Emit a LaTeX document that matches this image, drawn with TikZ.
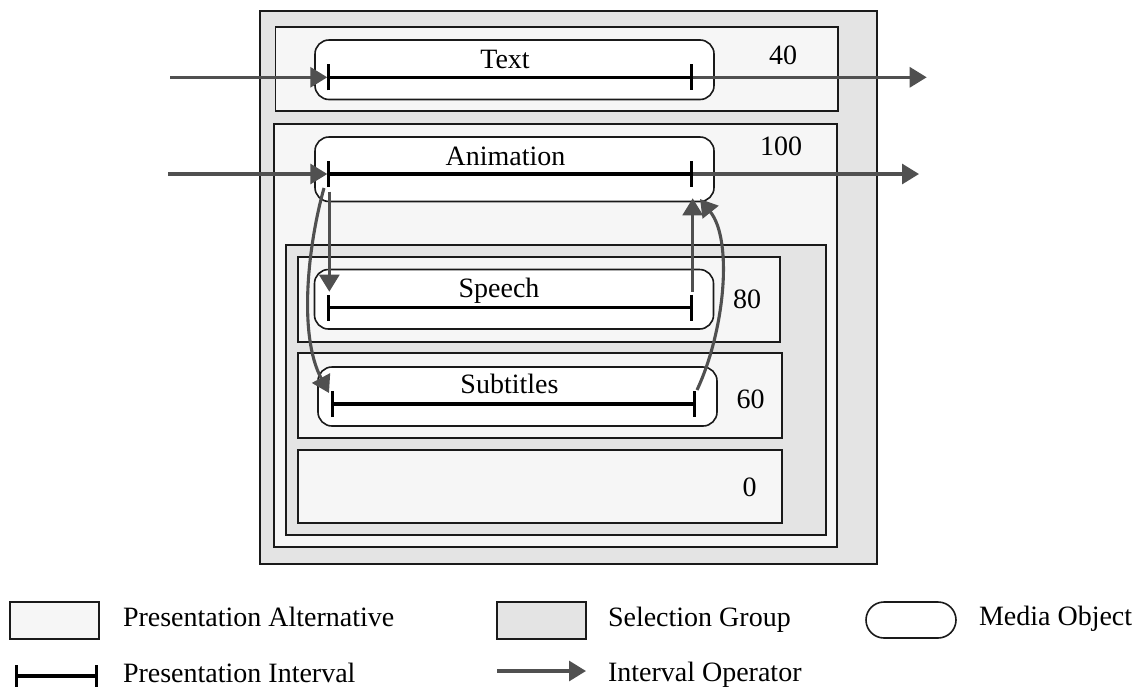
\documentclass[tikz,border=0pt]{standalone}
\usepackage{fontspec}
\setmainfont{Liberation Serif}
\usetikzlibrary{arrows.meta}
\definecolor{sgfill}{HTML}{E4E4E4}
\definecolor{pafill}{HTML}{F6F6F6}
\definecolor{bord}{HTML}{1A1A1A}
\definecolor{opgray}{HTML}{505050}
\begin{document}
\begin{tikzpicture}[x=1pt,y=-1pt,
  every node/.style={inner sep=0pt, outer sep=0pt},
  box/.style={draw=bord, line width=1.6pt, anchor=north west},
  sgbox/.style={box, fill=sgfill},
  pabox/.style={box, fill=pafill},
  mobox/.style={box, fill=white, rounded corners=14pt},
  lbl/.style={font=\fontsize{28}{30}\selectfont, anchor=base},
  num/.style={font=\fontsize{28}{30}\selectfont, anchor=base west},
  interval/.style={draw=black, line width=3.1pt, {Bar[width=26pt]}-{Bar[width=26pt]}},
  op/.style={draw=opgray, line width=3.1pt, -{Triangle[length=17pt,width=20pt]}}
]
\useasboundingbox (0,0) rectangle (1146,686);

% boxes
\node[sgbox, minimum width=617pt, minimum height=553pt] (outer) at (260,11) {};
\node[pabox, minimum width=562.5pt, minimum height=84pt] (textPA) at (275.5,27) {};
\node[pabox, minimum width=563pt, minimum height=423pt] (animPA) at (274,124) {};
\node[sgbox, minimum width=540pt, minimum height=290pt] (innerSG) at (286,245) {};
\node[pabox, minimum width=482pt, minimum height=85pt] (speechPA) at (298,257) {};
\node[pabox, minimum width=484pt, minimum height=85pt] (subPA) at (298,353) {};
\node[pabox, minimum width=484pt, minimum height=73pt] (emptyPA) at (298,450) {};

% media objects
\node[mobox, minimum width=399pt, minimum height=59.5pt] (textMO) at (315,40) {};
\node[mobox, minimum width=399pt, minimum height=64.5pt] (animMO) at (315,137) {};
\node[mobox, minimum width=399pt, minimum height=59.5pt] (speechMO) at (314.5,269.5) {};
\node[mobox, minimum width=399pt, minimum height=59pt] (subMO) at (318,367) {};

% labels
\node[lbl] (tTxt) at (505,68) {Text};
\node[lbl] (aTxt) at (505.5,165.7) {Animation};
\node[lbl] (sTxt) at (499,297.3) {Speech};
\node[lbl] (bTxt) at (509.5,393.3) {Subtitles};
\node[num] (n40) at (769,64) {40};
\node[num] (n100) at (760,155.7) {100};
\node[num] (n80) at (733,308) {80};
\node[num] (n60) at (736.7,408) {60};
\node[num] (n0) at (742.7,496) {0};

% interval endpoints
\coordinate (tS) at (327.3,77.3);
\coordinate (tE) at (692.7,77.3);
\coordinate (aS) at (327.3,174);
\coordinate (aE) at (692.7,174);
\coordinate (sS) at (327.3,307.5);
\coordinate (sE) at (692.7,307.5);
\coordinate (bS) at (330.7,404);
\coordinate (bE) at (695.7,404);

% operator endpoints
\coordinate (tIn) at (170,77.3);
\coordinate (tOut) at (926.7,77.3);
\coordinate (aIn) at (168,174);
\coordinate (aOut) at (919,174);
\coordinate (aSb) at (329.3,191.7);
\coordinate (sStop) at (329.3,291.7);
\coordinate (sEtop) at (692.7,291.7);
\coordinate (aEb) at (692.7,198.3);
\coordinate (aScur) at (324,188);
\coordinate (bSt) at (329,393);
\coordinate (bEt) at (697,390);
\coordinate (aEcur) at (700,199);

% operators
\draw[op] (tIn) -- (tS);
\draw[op] (tE) -- (tOut);
\draw[op] (aIn) -- (aS);
\draw[op] (aE) -- (aOut);
\draw[op] (aSb) -- (sStop);
\draw[op] (sEtop) -- (aEb);
\draw[op] (aScur) .. controls (308,245) and (298,335) .. (bSt);
\draw[op] (bEt) .. controls (725,330) and (733,240) .. (aEcur);

% intervals
\draw[interval] (tS) -- (tE);
\draw[interval] (aS) -- (aE);
\draw[interval] (sS) -- (sE);
\draw[interval] (bS) -- (bE);

% legend
\node[pabox, minimum width=89pt, minimum height=37pt] (lPA) at (10,602) {};
\node[num] (lPAt) at (123,626.5) {Presentation Alternative};
\node[sgbox, minimum width=89pt, minimum height=37pt] (lSG) at (497,602) {};
\node[num] (lSGt) at (608,626.5) {Selection Group};
\node[mobox, rounded corners=18pt, minimum width=90pt, minimum height=36pt] (lMO) at (866,602) {};
\node[num] (lMOt) at (979,625) {Media Object};
\coordinate (lIS) at (15,676);
\coordinate (lIE) at (98,676);
\draw[interval, {Bar[width=22pt]}-{Bar[width=22pt]}] (lIS) -- (lIE);
\node[num] (lIt) at (123,682) {Presentation Interval};
\coordinate (lOS) at (497,671);
\coordinate (lOE) at (586,671);
\draw[op] (lOS) -- (lOE);
\node[num] (lOt) at (608,681) {Interval Operator};
\end{tikzpicture}
\end{document}
